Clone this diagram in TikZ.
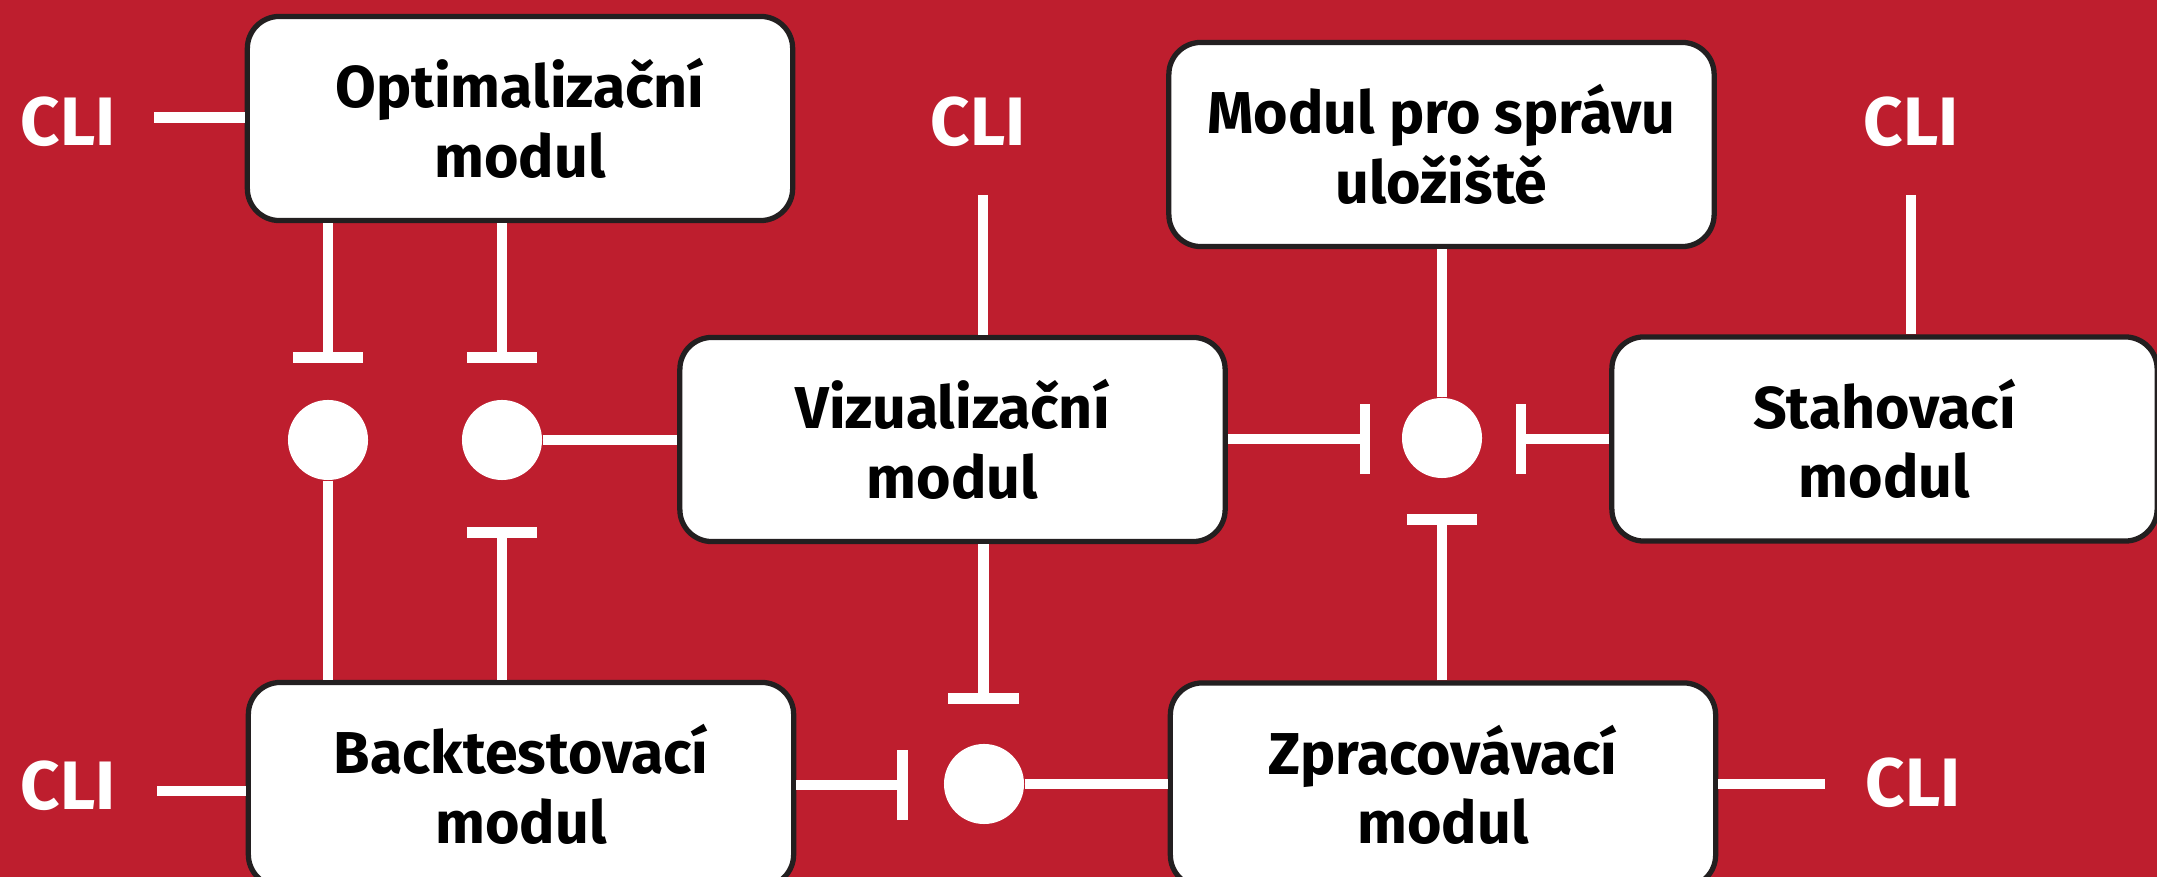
\documentclass[tikz,border=0pt]{standalone}
\usepackage{fontspec}
\setmainfont{Fira Sans}
\definecolor{bgred}{RGB}{190,30,46}
\definecolor{bord}{RGB}{35,31,32}
\begin{document}
\begin{tikzpicture}[x=0.01cm,y=-0.01cm,
  bx/.style={draw=bord, line width=1.5pt, fill=white, rounded corners=0.32cm,
    minimum width=5.45cm, minimum height=2.04cm, align=center, inner sep=0pt,
    text=black, font=\fontsize{16.8}{19.8}\selectfont\bfseries},
  dot/.style={circle, fill=white, minimum size=0.8cm, inner sep=0pt},
  cli/.style={text=white, inner sep=0pt, font=\fontsize{19.5}{22}\selectfont\bfseries},
  wire/.style={draw=white, line width=3pt},
  tbar/.style={draw=white, line width=3.1pt}]
\useasboundingbox (0,0) rectangle (2157,877);
\clip (0,0) rectangle (2157,877);
\fill[bgred] (0,0) rectangle (2157,877);

% boxes
\node[bx] (opt)  at (520,118.5) {Optimalizační\\modul};
\node[bx] (stor) at (1441.5,144.5) {Modul pro správu\\uložiště};
\node[bx] (viz)  at (952.5,439.5) {Vizualizační\\modul};
\node[bx] (stah) at (1884.5,439) {Stahovací\\modul};
\node[bx] (back) at (521,784.5) {Backtestovací\\modul};
\node[bx] (zpr)  at (1443,785) {Zpracovávací\\modul};

% CLI labels
\node[cli] (cli1) at (68,122) {CLI};
\node[cli] (cli2) at (978,122) {CLI};
\node[cli] (cli3) at (1911,122) {CLI};
\node[cli] (cli4) at (68,786) {CLI};
\node[cli] (cli5) at (1913,783) {CLI};

% junction dots (positions)
\coordinate (p1) at (328,440);
\coordinate (p2) at (502,440);
\coordinate (p3) at (1442,438);
\coordinate (p4) at (984,784);

% bar positions
\coordinate (b1) at (328,357.5);
\coordinate (b2) at (502,357.5);
\coordinate (b3) at (502,532.5);
\coordinate (b4) at (1365,439);
\coordinate (b5) at (1521,439);
\coordinate (b6) at (1442,519.5);
\coordinate (b7) at (983.5,698.5);
\coordinate (b8) at (902.5,785);

% CLI line ends
\coordinate (e1) at (154,117.5);
\coordinate (e2) at (983,195);
\coordinate (e3) at (1911,195);
\coordinate (e4) at (157,791);
\coordinate (e5) at (1825,784);

% CLI connectors
\draw[wire] (e1) -- (e1 -| opt.west);
\draw[wire] (e2) -- (e2 |- viz.north);
\draw[wire] (e3) -- (e3 |- stah.north);
\draw[wire] (e4) -- (e4 -| back.west);
\draw[wire] (zpr.east |- e5) -- (e5);

% module connectors with bars
\draw[wire] (opt.south -| b1) -- (b1);
\draw[tbar] ([xshift=-0.35cm]b1) -- ([xshift=0.35cm]b1);
\draw[wire] (opt.south -| b2) -- (b2);
\draw[tbar] ([xshift=-0.35cm]b2) -- ([xshift=0.35cm]b2);
\draw[wire] (back.north -| b3) -- (b3);
\draw[tbar] ([xshift=-0.35cm]b3) -- ([xshift=0.35cm]b3);
\draw[wire] (viz.east |- b4) -- (b4);
\draw[tbar] ([yshift=-0.35cm]b4) -- ([yshift=0.35cm]b4);
\draw[wire] (stah.west |- b5) -- (b5);
\draw[tbar] ([yshift=-0.35cm]b5) -- ([yshift=0.35cm]b5);
\draw[wire] (zpr.north -| b6) -- (b6);
\draw[tbar] ([xshift=-0.35cm]b6) -- ([xshift=0.35cm]b6);
\draw[wire] (viz.south -| b7) -- (b7);
\draw[tbar] ([xshift=-0.35cm]b7) -- ([xshift=0.35cm]b7);
\draw[wire] (back.east |- b8) -- (b8);
\draw[tbar] ([yshift=-0.35cm]b8) -- ([yshift=0.35cm]b8);

% dots
\node[dot] (c1) at (p1) {};
\node[dot] (c2) at (p2) {};
\node[dot] (c3) at (p3) {};
\node[dot] (c4) at (p4) {};

% plain connectors
\draw[wire] (c1.south) -- (c1.south |- back.north);
\draw[wire] (c2.east) -- (c2.east -| viz.west);
\draw[wire] (stor.south -| c3) -- (c3.north);
\draw[wire] (c4.east) -- (c4.east -| zpr.west);
\end{tikzpicture}
\end{document}
